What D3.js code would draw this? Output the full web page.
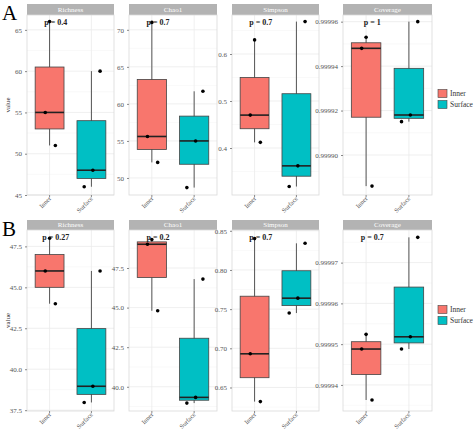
<!DOCTYPE html><html><head><meta charset="utf-8">
<script src="https://cdn.jsdelivr.net/npm/d3@7"></script>
<style>body{margin:0;background:#fff}</style></head><body><svg id="c" width="474" height="434"></svg>
<script>
const groups=["Inner","Surface"];
const metrics=["Richness","Chao1","Simpson","Coverage"];
// Row A values per metric: [Inner points, Surface points]
const A_Richness=[[66,55,51],[60,48,46]];
const A_Chao1=[[71,55.6,52.1],[61.7,55,48.7]];
const A_Simpson=[[0.63,0.47,0.412],[0.669,0.362,0.318]];
const A_Coverage=[[0.999953,0.999948,0.999886],[0.99996,0.999918,0.999915]];
const B_Richness=[[48.0,46.0,44.0],[46.0,38.96,37.97]];
const B_Chao1=[[49.3,49.0,44.8],[46.8,39.33,38.97]];
const B_Simpson=[[0.840,0.693,0.632],[0.834,0.764,0.745]];
const B_Coverage=[[0.9999524,0.9999488,0.9999363],[0.9999762,0.9999518,0.9999488]];
const jitter=[[0,-0.15,0.2],[0.3,0.05,-0.25]];
const A_p=["p = 0.4","p = 0.7","p = 0.7","p = 1"];
const B_p=["p = 0.27","p = 0.2","p = 0.7","p = 0.7"];
const A_dom=[[45,66.8],[47.7,72],[0.3,0.683],[0.999882,0.999963]];
const B_dom=[[37.45,48.5],[38.47,49.9],[0.62,0.851],[0.9999336,0.999978]];
const A_ticks=[[45,50,55,60,65],[50,55,60,65,70],[0.4,0.5,0.6],[0.99990,0.99992,0.99994,0.99996]];
const B_ticks=[[37.5,40,42.5,45,47.5],[40,42.5,45,47.5],[0.65,0.70,0.75,0.80,0.85],[0.99994,0.99995,0.99996,0.99997]];
const A_fmt=["d","d",".1f",".5f"], B_fmt=[".1f",".1f",".2f",".5f"];
const colors=["#F8766D","#00BFC4"];
const svg=d3.select("#c");
const F="Liberation Serif, serif";
const panelX=[[27,114],[129,217],[232,319],[343,432]];
const rows=[
 {label:"A",data:[A_Richness,A_Chao1,A_Simpson,A_Coverage],p:A_p,dom:A_dom,ticks:A_ticks,fmt:A_fmt,top:4,strip:11,bottom:195},
 {label:"B",data:[B_Richness,B_Chao1,B_Simpson,B_Coverage],p:B_p,dom:B_dom,ticks:B_ticks,fmt:B_fmt,top:220,strip:10,bottom:411}];
rows.forEach(r=>{
 svg.append("text").attr("x",2).attr("y",r.top+16).attr("font-family",F).attr("font-size",21).text(r.label);
 svg.append("text").attr("transform",`translate(10,${(r.top+r.strip+r.bottom)/2}) rotate(-90)`).attr("text-anchor","middle").attr("font-family",F).attr("font-size",7).attr("fill","#333").text("value");
 metrics.forEach((m,i)=>{
  const [x0,x1]=panelX[i]; const y0=r.top+r.strip;
  const g=svg.append("g");
  const y=d3.scaleLinear().domain(r.dom[i]).range([r.bottom,y0]);
  const x=d3.scaleBand().domain(groups).range([x0,x1]).padding(0.08);
  const bw=x.bandwidth();
  g.append("rect").attr("x",x0).attr("y",r.top).attr("width",x1-x0).attr("height",r.strip).attr("fill","#b3b3b3");
  g.append("text").attr("x",(x0+x1)/2).attr("y",r.top+r.strip-3).attr("text-anchor","middle").attr("font-family",F).attr("font-size",7).attr("fill","#fff").text(m);
  const t=r.ticks[i]; const step=t[1]-t[0];
  const minor=[t[0]-step/2,...t.map(v=>v+step/2)].filter(v=>v>r.dom[i][0]&&v<r.dom[i][1]);
  minor.forEach(v=>g.append("line").attr("x1",x0).attr("x2",x1).attr("y1",y(v)).attr("y2",y(v)).attr("stroke","#f2f2f2").attr("stroke-width",0.5));
  t.forEach(v=>g.append("line").attr("x1",x0).attr("x2",x1).attr("y1",y(v)).attr("y2",y(v)).attr("stroke","#ebebeb").attr("stroke-width",0.8));
  groups.forEach(k=>{const cx=x(k)+bw/2;g.append("line").attr("x1",cx).attr("x2",cx).attr("y1",y0).attr("y2",r.bottom).attr("stroke","#ebebeb").attr("stroke-width",0.8);});
  g.append("rect").attr("x",x0).attr("y",y0).attr("width",x1-x0).attr("height",r.bottom-y0).attr("fill","none").attr("stroke","#d9d9d9").attr("stroke-width",0.8);
  const ax=g.append("g").attr("transform",`translate(${x0},0)`).call(d3.axisLeft(y).tickValues(t).tickFormat(d3.format(r.fmt[i])).tickSize(2));
  ax.select(".domain").remove();
  ax.selectAll("line").attr("stroke","#888");
  ax.selectAll("text").attr("font-family",F).attr("font-size",7).attr("fill","#555");
  const xa=g.append("g").attr("transform",`translate(0,${r.bottom})`).call(d3.axisBottom(x).tickSize(2));
  xa.select(".domain").remove(); xa.selectAll("line").attr("stroke","#888");
  xa.selectAll("text").attr("font-family",F).attr("font-size",6.5).attr("fill","#555").attr("text-anchor","end").attr("dy",0).attr("dx",0).attr("y",0).attr("transform","translate(2,4) rotate(-45)");
  const bwBox=bw*0.75;
  r.data[i].forEach((pts,gi)=>{
   const s=pts.slice().sort(d3.ascending);
   const q1=d3.quantile(s,0.25),q2=d3.quantile(s,0.5),q3=d3.quantile(s,0.75);
   const cx=x(groups[gi])+bw/2;
   g.append("line").attr("x1",cx).attr("x2",cx).attr("y1",y(s[0])).attr("y2",y(s[s.length-1])).attr("stroke","#555").attr("stroke-width",1);
   g.append("rect").attr("x",cx-bwBox/2).attr("y",y(q3)).attr("width",bwBox).attr("height",y(q1)-y(q3)).attr("fill",colors[gi]).attr("stroke","#444").attr("stroke-width",0.8);
   g.append("line").attr("x1",cx-bwBox/2).attr("x2",cx+bwBox/2).attr("y1",y(q2)).attr("y2",y(q2)).attr("stroke","#222").attr("stroke-width",1.6);
   pts.forEach((v,j)=>g.append("circle").attr("cx",cx+jitter[gi][j]*bwBox).attr("cy",y(v)).attr("r",1.8).attr("fill","#000"));
  });
  g.append("text").attr("x",x0+(x1-x0)*0.33).attr("y",y0+10).attr("text-anchor","middle").attr("font-family",F).attr("font-size",8).attr("font-weight","bold").attr("fill","#222").text(r.p[i]);
 });
 const ly=(r.top+r.bottom)/2;
 groups.forEach((k,gi)=>{
  const yy=ly+gi*11-6;
  svg.append("rect").attr("x",438).attr("y",yy-4).attr("width",9).attr("height",8).attr("fill",colors[gi]).attr("stroke","#444").attr("stroke-width",0.6);
  svg.append("text").attr("x",450).attr("y",yy+2.5).attr("font-family",F).attr("font-size",7.5).attr("fill","#333").text(k);
 });
});
</script></body></html>
